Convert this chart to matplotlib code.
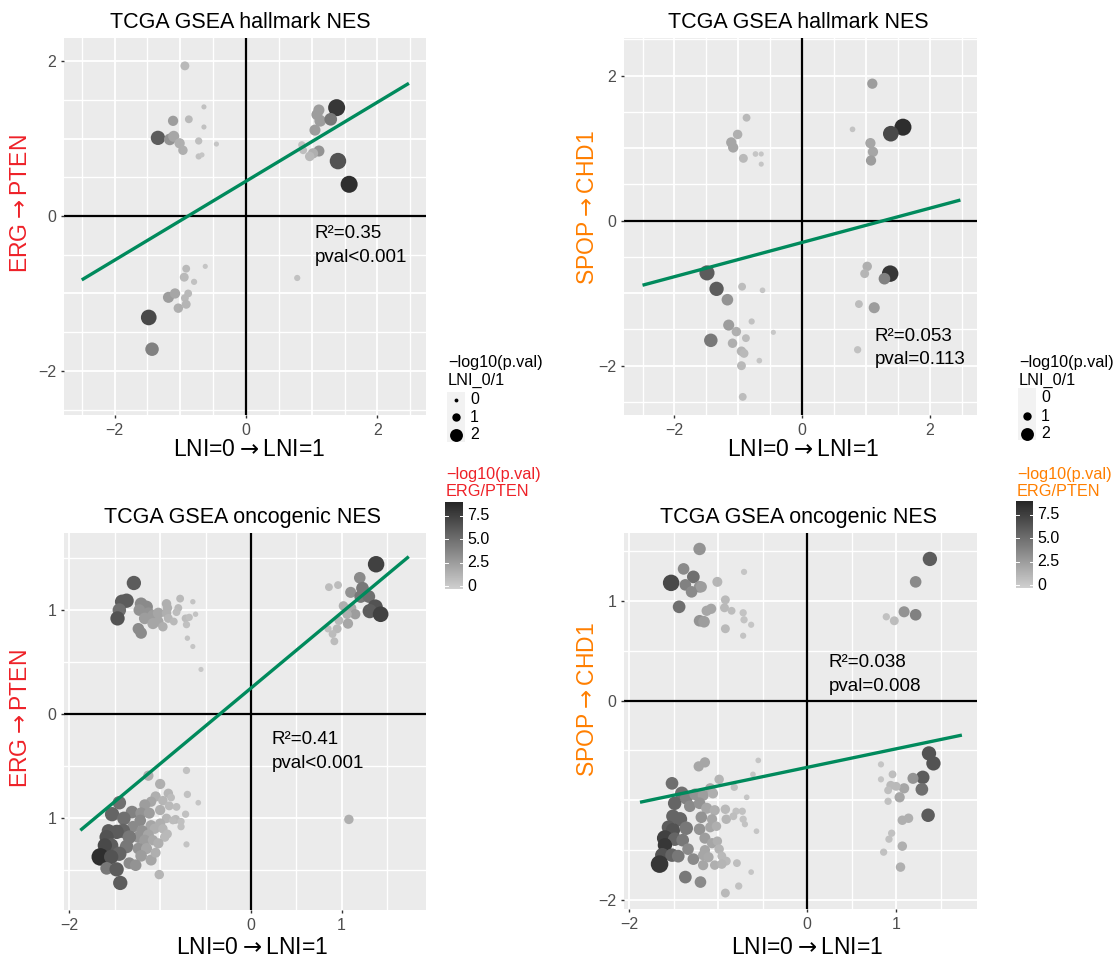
import numpy as np
import matplotlib
matplotlib.use("Agg")
import matplotlib.pyplot as plt
from matplotlib.colors import LinearSegmentedColormap, Normalize

plt.rcParams['font.family'] = ['Liberation Sans', 'DejaVu Sans']
plt.rcParams['mathtext.fontset'] = 'dejavusans'

# ---------------------------------------------------------------- data
# NES shift LNI=0 -> LNI=1 (x), NES shift of the genomic group (y),
# -log10(p) of the LNI comparison (point size), -log10(p) of the group (grey)

# hallmark sets, ERG -> PTEN
tl_x = [-0.93, -0.64, -1.11, -0.87, -0.64, -1.34, -1.16, -1.10, -1.01, -0.96,
        -0.72, -0.45, -0.72, -0.67, 1.38, 1.11, 1.08, 1.13, 1.29, 1.05,
        1.11, 1.02, 0.97, 0.87, 0.85, 1.40, 1.57, -0.91, -0.62, -0.94,
        -0.79, -1.18, -1.08, -0.88, -0.93, -0.91, -1.03, -1.48, -1.43, 0.78]
tl_y = [1.94, 1.41, 1.23, 1.25, 1.15, 1.01, 0.99, 1.03, 0.94, 0.85,
        0.97, 0.93, 0.77, 0.79, 1.40, 1.37, 1.31, 1.23, 1.25, 1.11,
        0.84, 0.81, 0.77, 0.85, 0.92, 0.71, 0.41, -0.68, -0.65, -0.79,
        -0.85, -1.05, -1.00, -1.00, -1.06, -1.14, -1.19, -1.31, -1.72, -0.80]
tl_lni = [0.8, 0.1, 1.05, 0.6, 0.1, 1.8, 1.3, 1.2, 1.05, 0.9,
          0.5, 0.1, 0.3, 0.1, 2.3, 1.2, 1.2, 1.3, 1.5, 1.2,
          1.2, 1.05, 0.9, 0.6, 0.5, 2.2, 2.3, 0.6, 0.1, 0.8,
          0.3, 1.2, 1.05, 0.6, 0.6, 0.8, 0.9, 2.05, 1.65, 0.3]
tl_grp = [1.0, 0.5, 2.5, 1.0, 0.5, 6.0, 3.0, 2.0, 1.5, 1.5,
          0.7, 0.3, 0.5, 0.3, 8.0, 2.5, 2.5, 2.5, 4.5, 2.5,
          3.0, 1.5, 1.0, 0.7, 0.5, 6.5, 8.5, 1.0, 0.3, 1.0,
          0.5, 2.5, 2.0, 1.0, 1.0, 1.2, 1.5, 7.0, 4.0, 0.5]
tl_fit = (0.51, 0.45)          # slope, intercept
tl_stats = ("R\u00b2=0.35", "pval<0.001")

# hallmark sets, SPOP -> CHD1
tr_x = [1.10, -0.87, 0.79, 1.58, 1.39, -1.01, -1.11, -1.08, 1.07, 1.11,
        1.08, -0.92, -0.73, -0.64, -0.64, 1.02, 0.98, 1.38, 1.29, -1.49,
        -1.34, -1.17, -0.94, -0.62, 0.89, 1.13, -0.79, -1.15, -1.03, -0.45,
        -1.43, -0.88, -1.09, -0.95, -0.91, -0.67, -0.95, 0.87, -0.93]
tr_y = [1.89, 1.42, 1.26, 1.29, 1.20, 1.19, 1.08, 1.01, 1.07, 0.95,
        0.83, 0.86, 0.92, 0.92, 0.78, -0.63, -0.73, -0.73, -0.80, -0.72,
        -0.94, -1.09, -0.91, -0.96, -1.15, -1.20, -1.39, -1.44, -1.53, -1.54,
        -1.65, -1.62, -1.69, -1.80, -1.83, -1.93, -2.00, -1.78, -2.43]
tr_lni = [1.05, 0.6, 0.2, 2.3, 2.05, 0.9, 1.05, 1.05, 1.05, 1.05,
          1.05, 0.8, 0.2, 0.1, 0.1, 0.9, 0.8, 2.2, 1.3, 1.95,
          1.8, 1.3, 0.6, 0.2, 0.6, 1.2, 0.3, 1.2, 0.9, 0.1,
          1.65, 0.6, 0.9, 0.9, 0.8, 0.2, 0.8, 0.5, 0.6]
tr_grp = [2.5, 1.0, 0.4, 8.5, 7.0, 1.5, 2.0, 2.0, 2.0, 2.0,
          2.5, 1.0, 0.3, 0.3, 0.3, 1.5, 1.2, 8.0, 4.0, 6.0,
          6.0, 3.0, 0.8, 0.3, 0.8, 2.5, 0.5, 2.5, 1.5, 0.2,
          4.5, 0.8, 1.5, 1.2, 1.0, 0.3, 1.0, 0.5, 0.8]
tr_fit = (0.236, -0.30)
tr_stats = ("R\u00b2=0.053", "pval=0.113")

# oncogenic sets, ERG -> PTEN
bl_x = ([-1.29, -1.37, -1.42, -1.45, -1.47, -1.21, -1.15, -1.23, -1.13, -1.17,
         -1.08, -1.02, -1.08, -1.02, -0.97, -1.24, -1.21, -0.93, -0.92, -0.93,
         -0.91, -0.85, -0.80, -0.78, -0.82, -0.72, -0.68, -0.71, -0.64, -0.61,
         -0.70, -0.64, -0.55]
        + [1.38, 1.20, 0.86, 0.96, 1.10, 1.23, 1.21, 1.30, 1.37, 1.31,
           1.43, 1.02, 1.11, 1.15, 1.06, 0.97, 1.07, 0.95, 0.90, 0.92,
           0.85, 1.08]
        + [-0.71, -1.13, -1.00, -0.70, -0.58, -1.45, -0.91, -1.05, -0.97, -1.10,
           -1.17, -0.90, -0.82, -1.31, -1.21, -1.12, -1.00, -1.53, -0.72, -1.40,
           -1.22, -0.93, -0.83, -0.77, -0.77, -1.30, -1.10, -1.00, -1.06, -0.97,
           -1.41, -1.48, -1.57, -1.20, -1.24, -1.13, -0.95, -1.59, -1.34, -1.17,
           -1.08, -1.02, -1.54, -1.37, -1.61, -1.24, -1.15, -1.45, -1.21, -1.66,
           -1.54, -1.10, -1.34, -1.27, -1.59, -1.48, -1.01, -1.44, -0.71, -0.88,
           -0.92, -1.05, -0.86])
bl_y = ([1.26, 1.09, 1.08, 1.00, 0.92, 1.06, 1.03, 1.00, 0.97, 0.92,
         0.95, 0.97, 0.87, 0.89, 0.84, 0.82, 0.78, 1.06, 1.02, 0.97,
         0.92, 0.89, 1.02, 1.11, 0.98, 0.92, 0.93, 0.86, 1.08, 0.96,
         0.73, 0.65, 0.43]
        + [1.44, 1.31, 1.22, 1.24, 1.17, 1.21, 1.13, 1.13, 1.03, 0.99,
           0.96, 1.04, 1.02, 0.96, 0.96, 0.90, 0.87, 0.82, 0.77, 0.70,
           0.82, -1.01]
        + [-0.54, -0.59, -0.67, -0.77, -0.85, -0.85, -0.76, -0.79, -0.83, -0.84,
           -0.87, -0.88, -0.89, -0.94, -0.95, -0.95, -0.92, -0.96, -0.96, -1.00,
           -1.02, -1.00, -1.01, -1.03, -1.08, -1.08, -1.07, -1.05, -1.10, -1.10,
           -1.12, -1.13, -1.12, -1.12, -1.18, -1.16, -1.18, -1.18, -1.18, -1.21,
           -1.21, -1.24, -1.26, -1.27, -1.26, -1.29, -1.29, -1.34, -1.36, -1.37,
           -1.37, -1.40, -1.43, -1.45, -1.48, -1.49, -1.54, -1.62, -1.25, -0.80,
           -1.15, -1.33, -1.02])
bl_lni = ([1.8, 1.8, 1.8, 1.65, 1.8, 1.5, 1.5, 1.3, 1.3, 1.3,
           1.2, 1.2, 1.2, 1.05, 0.9, 1.3, 1.3, 0.9, 0.9, 0.9,
           0.8, 0.6, 0.6, 0.6, 0.6, 0.6, 0.5, 0.5, 0.15, 0.15,
           0.15, 0.1, 0.1]
          + [2.2, 1.3, 0.6, 0.6, 1.2, 1.5, 1.5, 1.5, 1.95, 1.8,
             2.05, 0.9, 0.9, 1.05, 0.9, 0.8, 1.05, 0.8, 0.6, 0.6,
             0.5, 0.9]
          + [0.5, 1.05, 1.05, 0.5, 0.2, 1.65, 0.9, 1.05, 0.9, 1.05,
             1.2, 0.8, 0.6, 1.5, 1.3, 1.2, 1.05, 1.8, 0.5, 1.65,
             1.3, 0.9, 0.8, 0.5, 0.5, 1.3, 1.2, 1.05, 1.05, 0.9,
             1.8, 1.8, 1.65, 1.3, 1.3, 1.2, 0.9, 1.8, 1.65, 1.2,
             1.05, 1.05, 1.8, 1.65, 1.8, 1.3, 1.2, 1.8, 1.3, 2.4,
             1.8, 1.2, 1.3, 1.3, 1.5, 1.8, 0.9, 1.8, 0.3, 0.6,
             0.8, 1.0, 0.6])
bl_grp = ([6.0, 6.0, 6.0, 5.0, 6.5, 3.5, 3.5, 3.0, 3.0, 2.5,
           2.5, 2.0, 2.0, 2.0, 1.5, 3.5, 3.5, 1.5, 1.5, 1.5,
           1.2, 1.0, 1.0, 1.0, 0.8, 0.8, 0.6, 0.6, 0.4, 0.4,
           0.4, 0.3, 0.2]
          + [7.5, 3.5, 0.8, 0.8, 3.0, 4.5, 4.5, 5.0, 6.5, 6.0,
             7.5, 1.5, 1.8, 2.5, 1.5, 1.0, 2.0, 1.0, 0.8, 0.8,
             0.6, 1.5]
          + [0.5, 1.5, 1.5, 0.5, 0.3, 5.0, 1.2, 1.5, 1.2, 2.0,
             2.5, 1.0, 0.8, 4.0, 3.0, 2.5, 1.5, 5.5, 0.5, 5.0,
             3.5, 1.2, 1.0, 0.6, 0.6, 3.5, 2.0, 1.5, 1.5, 1.2,
             5.5, 6.0, 6.0, 3.0, 3.0, 2.0, 1.0, 6.5, 4.5, 2.5,
             1.8, 1.5, 6.0, 4.5, 7.0, 3.0, 2.0, 5.5, 2.5, 8.5,
             6.5, 2.0, 3.5, 3.0, 4.5, 6.0, 1.2, 6.0, 0.4, 0.8,
             1.0, 1.5, 0.8])
bl_fit = (0.726, 0.25)
bl_stats = ("R\u00b2=0.41", "pval<0.001")

# oncogenic sets, SPOP -> CHD1
br_x = ([-1.21, -1.39, -1.53, -1.28, -1.37, -1.21, -1.30, -1.19, -1.01, -0.71,
         -1.44, -0.92, -1.13, -1.08, -0.93, -0.85, -0.72, -0.71, -0.63, -1.21,
         -1.16, -0.92, -0.72]
        + [1.38, 1.22, 1.09, 1.22, 0.89, 0.98]
        + [1.37, 1.42, 1.30, 1.19, 1.29, 1.09, 1.04, 1.00, 0.94, 0.91,
           0.96, 0.83, 0.83, 0.91, 1.36, 1.14, 1.07, 0.95, 0.92, 0.86,
           1.07, 1.05]
        + [-0.55, -1.15, -1.22, -0.61, -0.99, -1.52, -0.82, -1.09, -1.41, -1.36,
           -1.26, -1.17, -1.06, -0.68, -1.49, -1.32, -1.21, -1.13, -1.04, -0.92,
           -0.80, -0.73, -1.51, -1.43, -1.19, -1.07, -0.91, -0.83, -0.72, -0.70,
           -1.56, -1.51, -1.36, -1.21, -1.09, -1.02, -0.57, -1.60, -1.49, -1.40,
           -1.15, -1.07, -1.01, -1.60, -1.34, -1.15, -0.99, -1.63, -1.52, -1.45,
           -1.17, -1.11, -0.96, -1.28, -0.91, -0.79, -1.66, -1.17, -1.04, -0.96,
           -0.63, -1.37, -1.20, -0.77, -0.92])
br_y = ([1.52, 1.32, 1.18, 1.24, 1.16, 1.14, 1.09, 1.14, 1.19, 1.29,
         0.94, 1.01, 0.90, 0.92, 0.93, 0.90, 0.88, 0.81, 0.76, 0.80,
         0.79, 0.72, 0.65]
        + [1.42, 1.19, 0.89, 0.86, 0.84, 0.80]
        + [-0.53, -0.63, -0.77, -0.78, -0.89, -0.88, -0.97, -0.86, -0.85, -0.90,
           -0.74, -0.64, -0.79, -1.01, -1.15, -1.18, -1.20, -1.33, -1.39, -1.52,
           -1.46, -1.67]
        + [-0.60, -0.62, -0.66, -0.74, -0.79, -0.83, -0.87, -0.88, -0.93, -0.98,
           -0.94, -0.95, -0.93, -0.97, -1.03, -1.06, -1.03, -1.08, -1.10, -1.09,
           -1.11, -1.11, -1.16, -1.19, -1.17, -1.19, -1.19, -1.16, -1.19, -1.24,
           -1.27, -1.30, -1.28, -1.29, -1.27, -1.26, -1.31, -1.38, -1.39, -1.40,
           -1.38, -1.43, -1.41, -1.45, -1.49, -1.50, -1.49, -1.55, -1.55, -1.56,
           -1.55, -1.57, -1.56, -1.59, -1.61, -1.63, -1.64, -1.65, -1.65, -1.64,
           -1.72, -1.77, -1.82, -1.86, -1.93])
br_lni = ([1.45, 1.3, 2.2, 1.5, 1.3, 1.3, 1.3, 1.2, 1.0, 0.3,
           1.5, 0.8, 1.05, 1.05, 0.8, 0.6, 0.5, 0.5, 0.3, 1.3,
           1.3, 0.8, 0.3]
          + [1.8, 1.3, 1.2, 1.3, 0.5, 0.8]
          + [1.8, 1.8, 1.65, 1.2, 1.5, 1.05, 1.05, 0.8, 0.8, 0.6,
             0.6, 0.3, 0.3, 0.5, 1.65, 0.9, 0.9, 0.5, 0.5, 0.5,
             0.9, 0.9]
          + [0.2, 1.05, 1.05, 0.2, 0.9, 1.5, 0.5, 1.05, 1.65, 1.5,
             1.3, 1.2, 1.05, 0.2, 1.65, 1.3, 1.3, 1.2, 1.05, 0.9,
             0.5, 0.5, 1.65, 1.8, 1.3, 1.05, 0.9, 0.6, 0.5, 0.3,
             1.65, 1.8, 1.65, 1.3, 1.05, 0.9, 0.2, 2.1, 1.65, 1.5,
             1.2, 1.05, 0.9, 1.8, 1.3, 1.05, 0.9, 1.8, 1.65, 1.5,
             1.05, 1.05, 0.8, 1.3, 0.8, 0.6, 2.4, 1.05, 0.9, 0.9,
             0.2, 1.5, 1.3, 0.5, 0.8])
br_grp = ([3.0, 3.5, 7.0, 5.0, 4.0, 3.0, 3.5, 2.5, 1.2, 0.3,
           5.0, 1.0, 2.0, 2.0, 1.0, 0.8, 0.4, 0.4, 0.3, 3.0,
           2.5, 1.0, 0.4]
          + [6.0, 3.5, 3.0, 4.0, 0.5, 0.8]
          + [6.5, 6.5, 6.0, 3.0, 5.0, 2.0, 2.0, 1.0, 1.0, 0.7,
             0.7, 0.3, 0.3, 0.5, 6.0, 1.5, 1.5, 0.5, 0.5, 0.5,
             1.5, 1.5]
          + [0.3, 2.0, 2.0, 0.3, 1.2, 5.0, 0.5, 1.8, 5.0, 4.0,
             3.0, 2.5, 1.5, 0.3, 5.5, 3.5, 3.0, 2.0, 1.5, 1.0,
             0.5, 0.5, 5.5, 5.5, 3.0, 2.0, 1.2, 0.7, 0.4, 0.4,
             6.0, 6.5, 4.5, 3.0, 2.0, 1.5, 0.3, 7.5, 5.5, 4.5,
             2.5, 2.0, 1.5, 8.0, 3.5, 2.0, 1.2, 6.5, 5.5, 4.5,
             2.0, 1.8, 1.0, 3.5, 1.0, 0.7, 8.0, 2.0, 1.5, 1.2,
             0.3, 4.5, 3.5, 0.5, 1.0])
br_fit = (0.186, -0.67)
br_stats = ("R\u00b2=0.038", "pval=0.008")

size_breaks = [0, 1, 2]
color_breaks = [0, 2.5, 5.0, 7.5]
color_break_labels = ["0", "2.5", "5.0", "7.5"]

# ---------------------------------------------------------------- styling
W, H = 1114, 958
fig = plt.figure(figsize=(W / 100, H / 100), dpi=100)
fig.patch.set_facecolor('white')

RED = '#EE2128'
ORANGE = '#FF7F00'
GREEN = '#008A5C'
ARROW = "$\\rightarrow$"
cmap = LinearSegmentedColormap.from_list('p_grey', ['#D0D0D0', '#262626'])
norm = Normalize(vmin=-0.3, vmax=8.95)


def marker_area(v):
    d_px = 4.6 + 5.4 * np.asarray(v, dtype=float)
    return (d_px * 0.72) ** 2


def fig_x(px):
    return px / W


def fig_y(py):
    return 1 - py / H


def add_px_axes(l, t, r, b):
    return fig.add_axes([l / W, 1 - b / H, (r - l) / W, (b - t) / H])


def draw_panel(box, xlim, ylim, xticks, xlabels, yticks, ylabels,
               x, y, lni, grp, fit, stats, stats_xy):
    ax = add_px_axes(*box)
    ax.set_facecolor('#EBEBEB')
    for s in ax.spines.values():
        s.set_visible(False)
    ax.set_xlim(xlim)
    ax.set_ylim(ylim)
    for g in np.arange(np.ceil(xlim[0] * 2) / 2, xlim[1], 0.5):
        ax.axvline(g, color='white', lw=1.3 if g % 1 == 0 else 1.0, zorder=0.5)
    for g in np.arange(np.ceil(ylim[0] * 2) / 2, ylim[1], 0.5):
        ax.axhline(g, color='white', lw=1.3 if g % 1 == 0 else 1.0, zorder=0.5)
    ax.axhline(0, color='black', lw=1.6, zorder=1)
    ax.axvline(0, color='black', lw=1.6, zorder=1)
    ax.scatter(x, y, s=marker_area(lni), c=grp, cmap=cmap, norm=norm,
               linewidths=0, zorder=2)
    xs = np.array([-2.5 if xlim[0] < -2.5 else -1.88, 2.48 if xlim[1] > 2.5 else 1.74])
    ax.plot(xs, fit[1] + fit[0] * xs, color=GREEN, lw=2.4, zorder=3,
            solid_capstyle='butt')
    ax.text(stats_xy[0], stats_xy[1], stats[0], fontsize=13.5, va='center', ha='left', zorder=4)
    ax.text(stats_xy[0], stats_xy[2], stats[1], fontsize=13.5, va='center', ha='left', zorder=4)
    ax.set_xticks(xticks)
    ax.set_xticklabels(xlabels)
    ax.set_yticks(yticks)
    ax.set_yticklabels(ylabels)
    ax.tick_params(length=2.5, width=1, color='#333333', labelcolor='#4D4D4D',
                   labelsize=11.5, pad=3)
    return ax


draw_panel((64, 38, 426, 415), (-2.77, 2.74), (-2.57, 2.30),
           [-2, 0, 2], ["\u22122", "0", "2"], [-2, 0, 2], ["\u22122", "0", "2"],
           tl_x, tl_y, tl_lni, tl_grp, tl_fit, tl_stats, (1.05, -0.22, -0.53))
draw_panel((624, 38, 977, 415), (-2.79, 2.74), (-2.68, 2.52),
           [-2, 0, 2], ["\u22122", "0", "2"], [-2, 0, 2], ["\u22122", "0", "2"],
           tr_x, tr_y, tr_lni, tr_grp, tr_fit, tr_stats, (1.14, -1.60, -1.91))
draw_panel((64, 533, 426, 910), (-2.06, 1.93), (-1.88, 1.74),
           [-2, 0, 1], ["\u22122", "0", "1"], [-1, 0, 1], ["1", "0", "1"],
           bl_x, bl_y, bl_lni, bl_grp, bl_fit, bl_stats, (0.23, -0.24, -0.47))
draw_panel((624, 533, 977, 909), (-2.06, 1.91), (-2.09, 1.68),
           [-2, 0, 1], ["\u22122", "0", "1"], [-2, 0, 1], ["\u22122", "0", "1"],
           br_x, br_y, br_lni, br_grp, br_fit, br_stats, (0.24, 0.385, 0.14))

# titles and axis titles
for cx, cy, txt in [(240, 22, "TCGA GSEA hallmark NES"), (798, 22, "TCGA GSEA hallmark NES"),
                    (242, 518, "TCGA GSEA oncogenic NES"), (798, 518, "TCGA GSEA oncogenic NES")]:
    fig.text(fig_x(cx), fig_y(cy), txt, fontsize=15.5, ha='center', va='center')

for cx, cy in [(249, 450), (803, 450), (252, 947), (807, 947)]:
    fig.text(fig_x(cx), fig_y(cy), "LNI=0" + ARROW + "LNI=1", fontsize=16.5,
             ha='center', va='center')

for cx, cy, txt, col in [(21, 204, "ERG" + ARROW + "PTEN", RED),
                         (587, 208, "SPOP" + ARROW + "CHD1", ORANGE),
                         (21, 719, "ERG" + ARROW + "PTEN", RED),
                         (587, 700, "SPOP" + ARROW + "CHD1", ORANGE)]:
    fig.text(fig_x(cx), fig_y(cy), txt, fontsize=16.5, ha='center', va='center',
             rotation=90, color=col)


# ---------------------------------------------------------------- legends
def size_legend(title_x, box, dot_x, rows, label_x, show_zero):
    fig.text(fig_x(title_x), fig_y(362), "\u2212log10(p.val)", fontsize=11.7, va='center')
    fig.text(fig_x(title_x), fig_y(380), "LNI_0/1", fontsize=11.7, va='center')
    l, t, r, b = box
    kax = add_px_axes(l, t, r, b)
    kax.set_facecolor('#F2F2F2')
    kax.set_xlim(l, r)
    kax.set_ylim(b, t)
    kax.set_xticks([])
    kax.set_yticks([])
    for s in kax.spines.values():
        s.set_visible(False)
    for v, py in zip(size_breaks, rows):
        if v > 0 or show_zero:
            kax.scatter([dot_x], [py], s=marker_area(v) * 0.7, color='black',
                        linewidths=0, clip_on=False)
        fig.text(fig_x(label_x), fig_y(py), str(v), fontsize=11.5, va='center')


def color_legend(title_x, bar, label_x, col):
    fig.text(fig_x(title_x), fig_y(474), "\u2212log10(p.val)", fontsize=11.7, va='center', color=col)
    fig.text(fig_x(title_x), fig_y(492), "ERG/PTEN", fontsize=11.7, va='center', color=col)
    l, t, r, b = bar
    cax = add_px_axes(l, t, r, b)
    grad = np.linspace(norm.vmin, norm.vmax, 300).reshape(-1, 1)
    cax.imshow(grad, aspect='auto', cmap=cmap, norm=norm, origin='lower',
               extent=[0, 1, norm.vmin, norm.vmax], interpolation='bilinear')
    cax.set_xlim(0, 1)
    cax.set_ylim(norm.vmin, norm.vmax)
    cax.axis('off')
    for v, lab in zip(color_breaks, color_break_labels):
        cax.plot([0, 0.18], [v, v], color='white', lw=0.7)
        cax.plot([0.82, 1], [v, v], color='white', lw=0.7)
        py = b - (v - norm.vmin) / (norm.vmax - norm.vmin) * (b - t)
        fig.text(fig_x(label_x), fig_y(py), lab, fontsize=11.5, va='center')


size_legend(448, (447, 392, 465, 442), 456, [400, 417, 435], 470, True)
size_legend(1019, (1018, 388, 1036, 440), 1027, [398, 416, 434], 1041, False)
color_legend(446, (445, 502, 463, 589), 467, RED)
color_legend(1017, (1016, 501, 1033, 588), 1037, ORANGE)

fig.savefig('out.png', dpi=100, facecolor='white')
